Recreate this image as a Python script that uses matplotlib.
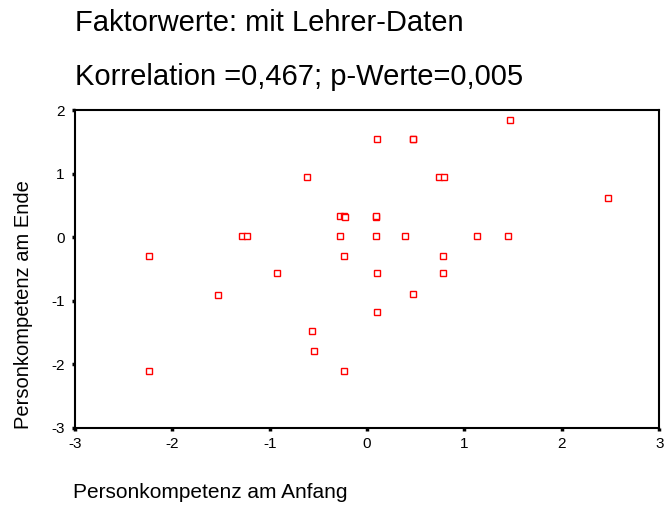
import matplotlib
matplotlib.use("Agg")
import matplotlib.pyplot as plt

plt.rcParams['font.family'] = ['Liberation Sans', 'DejaVu Sans']

x_anfang = [-2.24, -2.24, -1.53, -1.28, -1.23, -0.92, -0.62, -0.57, -0.54,
            -0.28, -0.24, -0.23, -0.28, -0.24, -0.24,
            1.47, 0.10, 0.47, 0.47, 0.74, 0.79, 2.47, 0.09, 0.09, 0.09,
            0.39, 1.13, 1.45, 0.78, 0.10, 0.78, 0.47, 0.10]
y_ende = [-0.29, -2.10, -0.91, 0.02, 0.02, -0.57, 0.94, -1.47, -1.79,
          0.33, 0.33, 0.32, 0.02, -0.29, -2.10,
          1.84, 1.54, 1.54, 1.55, 0.94, 0.94, 0.62, 0.32, 0.34, 0.02,
          0.02, 0.02, 0.02, -0.29, -0.57, -0.57, -0.89, -1.17]

xticks = [-3, -2, -1, 0, 1, 2, 3]
yticks = [-3, -2, -1, 0, 1, 2]
title1 = "Faktorwerte: mit Lehrer-Daten"
title2 = "Korrelation =0,467; p-Werte=0,005"
xlabel = "Personkompetenz am Anfang"
ylabel = "Personkompetenz am Ende"

fig = plt.figure(figsize=(6.68, 5.07), dpi=100)
ax = fig.add_axes([0.112, 0.156, 0.875, 0.627])
ax.plot(x_anfang, y_ende, linestyle='none', marker='s', markersize=5,
        markerfacecolor='white', markeredgecolor='red', markeredgewidth=1)
ax.set_xlim(-3, 3)
ax.set_ylim(-3, 2)
ax.set_xticks(xticks)
ax.set_yticks(yticks)
ax.set_xticklabels([str(t) for t in xticks])
ax.set_yticklabels([str(t) for t in yticks])
ax.tick_params(axis='both', direction='out', length=2.5, width=2.5, labelsize=11)
ax.tick_params(axis='x', pad=4)
ax.tick_params(axis='y', pad=5)
for s in ax.spines.values():
    s.set_linewidth(1.5)

fig.text(75/668, 1-23/507, title1, fontsize=21, va='center', ha='left')
fig.text(75/668, 1-77/507, title2, fontsize=21, va='center', ha='left')
fig.text(73/668, 1-492/507, xlabel, fontsize=15, va='center', ha='left')
fig.text(24/668, 1-305/507, ylabel, fontsize=14.5, va='center', ha='center', rotation=90)

fig.savefig("out.png", dpi=100)
